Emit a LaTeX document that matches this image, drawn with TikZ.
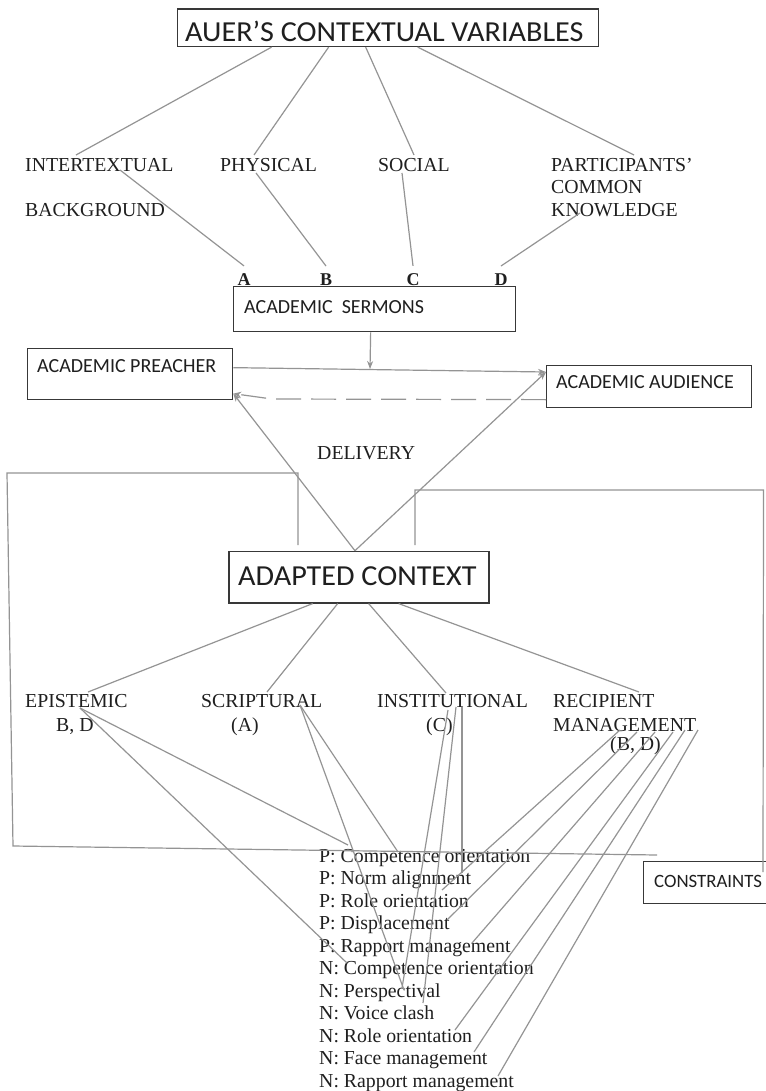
\documentclass[tikz,border=0pt]{standalone}
\usepackage{fontspec}
\setmainfont{Liberation Serif}
\newfontfamily\sansf{Carlito}
\newfontfamily\sansw{Carlito}[FakeStretch=1.04]
\usetikzlibrary{arrows.meta}
\definecolor{ln}{gray}{0.58}
\definecolor{bx}{gray}{0.22}
\definecolor{tx}{gray}{0.12}
\begin{document}
\begin{tikzpicture}[x=1pt,y=-1pt,
  conn/.style={draw=ln, line width=1.2pt},
  arr/.style={conn, -{Stealth[length=8pt,width=6pt]}},
  boxnode/.style={draw=bx, line width=1.3pt, inner sep=0pt, anchor=north west},
  lab/.style={font=\fontsize{19.8}{19.8}\selectfont, text=tx, inner sep=0pt, anchor=base west},
  slab/.style={font=\sansf\fontsize{20}{20}\selectfont, text=tx, inner sep=0pt, anchor=base west},
  letr/.style={font=\bfseries\fontsize{18}{18}\selectfont, text=tx, inner sep=0pt, anchor=base},
]
\useasboundingbox (0,0) rectangle (765,1091);
\fill[white] (0,0) rectangle (765,1091);

% ---------- boxes ----------
\node[boxnode, minimum width=421pt, minimum height=37.5pt] (titlebox) at (177,8.3) {};
\node[slab, font=\sansw\fontsize{29}{29}\selectfont] (title) at (185,41.7) {AUER’S CONTEXTUAL VARIABLES};

\node[boxnode, minimum width=282pt, minimum height=45pt] (sermbox) at (233,286) {};
\node[slab] (serm) at (244,313) {ACADEMIC\ \ SERMONS};

\node[boxnode, minimum width=205pt, minimum height=51pt] (prbox) at (27,348) {};
\node[slab] (pr) at (37,372) {ACADEMIC PREACHER};

\node[boxnode, minimum width=205pt, minimum height=42pt] (aubox) at (546,365) {};
\node[slab] (au) at (556,388) {ACADEMIC AUDIENCE};

\node[boxnode, minimum width=260pt, minimum height=51.6pt] (acbox) at (228.3,550.7) {};
\node[slab, font=\sansw\fontsize{29}{29}\selectfont] (ac) at (238,585.7) {ADAPTED CONTEXT};

\node[boxnode, fill=white, minimum width=140pt, minimum height=42pt] (cobox) at (643,861) {};
\node[slab, font=\sansf\fontsize{18.8}{18.8}\selectfont] (co) at (654,887) {CONSTRAINTS};

% ---------- top labels ----------
\node[lab] (inter) at (25,172) {INTERTEXTUAL};
\node[lab] (backg) at (25,217) {BACKGROUND};
\node[lab] (phys) at (220,172) {PHYSICAL};
\node[lab] (soc) at (378,172) {SOCIAL};
\node[lab] (part) at (551,172) {PARTICIPANTS’};
\node[lab] (comm) at (551,194) {COMMON};
\node[lab] (know) at (551,217) {KNOWLEDGE};

\node[letr] (la) at (244,285) {A};
\node[letr] (lb) at (326,285) {B};
\node[letr] (lc) at (413,285) {C};
\node[letr] (ld) at (501,285) {D};

\node[lab] (deliv) at (317,459) {DELIVERY};

% ---------- category labels ----------
\node[lab] (epi) at (25,707) {EPISTEMIC};
\node[lab] (epib) at (56,731) {B, D};
\node[lab] (scr) at (201,707) {SCRIPTURAL};
\node[lab] (scra) at (231,731) {(A)};
\node[lab] (ins) at (377,707) {INSTITUTIONAL};
\node[lab] (insc) at (426,731) {(C)};
\node[lab] (rec) at (553,707) {RECIPIENT};
\node[lab] (recm) at (553,731) {MANAGEMENT};
\node[lab] (recb) at (610,750) {(B, D)};

% ---------- list ----------
\node[lab] (i1) at (319,862) {P: Competence orientation};
\node[lab] (i2) at (319,884.5) {P: Norm alignment};
\node[lab] (i3) at (319,907) {P: Role orientation};
\node[lab] (i4) at (319,929.5) {P: Displacement};
\node[lab] (i5) at (319,952) {P: Rapport management};
\node[lab] (i6) at (319,974.5) {N: Competence orientation};
\node[lab] (i7) at (319,997) {N: Perspectival};
\node[lab] (i8) at (319,1019.5) {N: Voice clash};
\node[lab] (i9) at (319,1042) {N: Role orientation};
\node[lab] (i10) at (319,1064.5) {N: Face management};
\node[lab] (i11) at (319,1087) {N: Rapport management};

% ---------- coordinates ----------
\coordinate (iTop) at (76,155);
\coordinate (pTop) at (254,155);
\coordinate (sTop) at (414,155);
\coordinate (kTop) at (634,155);
\coordinate (iLow) at (120,170);
\coordinate (pLow) at (256,173);
\coordinate (sLow) at (402,173);
\coordinate (kLow) at (580,213);
\coordinate (sermTip) at (370,369);
\coordinate (dmid) at (272,399);
\coordinate (apex) at ([xshift=-4pt]acbox.north);

\coordinate (lb1) at (298,545);
\coordinate (lb2) at (298,473);
\coordinate (lb3) at (7,473);
\coordinate (lb4) at (13,846);
\coordinate (lb5) at (657,855);
\coordinate (rb1) at (415,545);
\coordinate (rb2) at (415,490);
\coordinate (rb3) at (763.5,490);
\coordinate (rb4) at (763,872);

\coordinate (epiT) at (88,692);
\coordinate (scrT) at (267,692);
\coordinate (insT) at (446,693);
\coordinate (recT) at (639,692);

\coordinate (epiO) at (80,708);
\coordinate (scrO) at (300,705);
\coordinate (insO1) at (448,710);
\coordinate (insO2) at (456,707);
\coordinate (insO3) at (462,707);
\coordinate (recO1) at (620,730);
\coordinate (recO2) at (637,732);
\coordinate (recO3) at (655,732);
\coordinate (recO4) at (673,732);
\coordinate (recO5) at (685,730);
\coordinate (recO6) at (698,730);

\coordinate (e1) at (348,845);
\coordinate (e2) at (347,963);
\coordinate (s1) at (398,852);
\coordinate (s2) at (404,990);
\coordinate (n1) at (402,988);
\coordinate (n2) at (423,1003);
\coordinate (n3) at (462,873);
\coordinate (r1) at (442,890);
\coordinate (r2) at (447,920);
\coordinate (r3) at (472,943);
\coordinate (r4) at (455,1030);
\coordinate (r5) at (474,1052);
\coordinate (r6) at (498,1076);

% ---------- connectors: top ----------
\draw[conn] ([xshift=-116.5pt]titlebox.south) -- (iTop);
\draw[conn] ([xshift=-59.5pt]titlebox.south) -- (pTop);
\draw[conn] ([xshift=-22.5pt]titlebox.south) -- (sTop);
\draw[conn] ([xshift=29.5pt]titlebox.south) -- (kTop);

\draw[conn] (iLow) -- ([yshift=7pt]la.north);
\draw[conn] (pLow) -- ([yshift=7pt]lb.north);
\draw[conn] (sLow) -- ([yshift=7pt]lc.north);
\draw[conn] (kLow) -- ([yshift=7pt]ld.north);

% ---------- delivery ----------
\draw[arr] ([xshift=-4pt]sermbox.south) -- (sermTip);
\draw[arr] ([yshift=6.5pt]prbox.east) -- ([yshift=-7pt]aubox.north west);
\draw[arr, dash pattern=on 25pt off 10pt] ([yshift=-13pt]aubox.west) -- (dmid) -- ([yshift=-19.5pt]prbox.east);
\draw[arr] (apex) -- ([yshift=-19.5pt]prbox.east);
\draw[arr] (apex) -- ([yshift=-7pt]aubox.north west);

% ---------- brackets ----------
\draw[conn] (lb1) -- (lb2) -- (lb3) -- (lb4) -- (lb5);
\draw[conn] (rb1) -- (rb2) -- (rb3) -- (rb4);

% ---------- adapted context to categories ----------
\draw[conn] ([xshift=-46.3pt]acbox.south) -- (epiT);
\draw[conn] ([xshift=-21.3pt]acbox.south) -- (scrT);
\draw[conn] ([xshift=9.7pt]acbox.south) -- (insT);
\draw[conn] ([xshift=39.7pt]acbox.south) -- (recT);

% ---------- categories to list ----------
\draw[conn] (epiO) -- (e1);
\draw[conn] (epiO) -- (e2);
\draw[conn] (scrO) -- (s1);
\draw[conn] (scrO) -- (s2);
\draw[conn] (insO1) -- (n1);
\draw[conn] (insO2) -- (n2);
\draw[conn] (insO3) -- (n3);
\draw[conn] (recO1) -- (r1);
\draw[conn] (recO2) -- (r2);
\draw[conn] (recO3) -- (r3);
\draw[conn] (recO4) -- (r4);
\draw[conn] (recO5) -- (r5);
\draw[conn] (recO6) -- (r6);
\end{tikzpicture}
\end{document}
